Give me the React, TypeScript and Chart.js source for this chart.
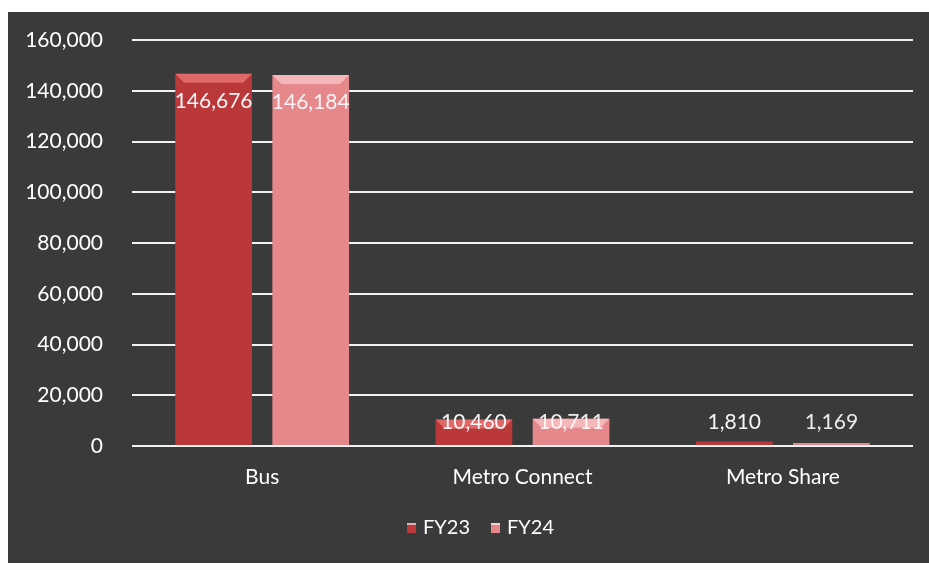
import React, { useEffect, useRef } from "react";
import { Chart, registerables } from "chart.js";

Chart.register(...registerables);

const categories = ["Bus", "Metro Connect", "Metro Share"];
const seriesNames = ["FY23", "FY24"];
const fy23 = [146676, 10460, 1810];
const fy24 = [146184, 10711, 1169];
const yMin = 0;
const yMax = 160000;
const yStep = 20000;

const FONT = "Lato, 'Open Sans', sans-serif";
const fmt = (v: number) => v.toLocaleString("en-US");
const seriesColors = ["#c0393b", "#e8878b"];
const bevelColors = ["rgba(235,120,120,0.75)", "rgba(250,195,198,0.8)"];

function barGradient(ctx: any, dark: string, mid: string, light: string) {
  const chart = ctx.chart;
  const el = ctx.element;
  if (!chart.chartArea || !el || el.width === undefined) return mid;
  const x0 = el.x - el.width / 2;
  const x1 = el.x + el.width / 2;
  const g = chart.ctx.createLinearGradient(x0, 0, x1, 0);
  g.addColorStop(0, dark);
  g.addColorStop(0.12, mid);
  g.addColorStop(0.5, light);
  g.addColorStop(0.88, mid);
  g.addColorStop(1, dark);
  return g;
}

// legend drawn on the chart canvas, centred a little right of the canvas middle
const legendPlugin = {
  id: "customLegend",
  afterDraw(chart: any) {
    const ctx = chart.ctx;
    ctx.save();
    ctx.font = `20px ${FONT}`;
    ctx.textBaseline = "middle";
    ctx.textAlign = "left";
    const box = 9;
    const gap = 7;
    const spacing = 21;
    const names = chart.data.datasets.map((d: any) => d.label);
    const widths = names.map((n: string) => ctx.measureText(n).width);
    const total =
      widths.reduce((a: number, w: number) => a + box + gap + w, 0) + spacing * (names.length - 1);
    const cx = chart.width / 2 + 12;
    const cy = 516;
    let x = cx - total / 2;
    names.forEach((n: string, i: number) => {
      ctx.fillStyle = seriesColors[i];
      ctx.fillRect(x, cy - 5, box, 10);
      ctx.fillStyle = "rgba(255,255,255,0.6)";
      ctx.fillRect(x, cy - 5, box, 2);
      x += box + gap;
      ctx.fillStyle = "#ffffff";
      ctx.fillText(n, x, cy);
      x += widths[i] + spacing;
    });
    ctx.restore();
  },
};

const labelPlugin = {
  id: "valueLabels",
  afterDatasetsDraw(chart: any) {
    const ctx = chart.ctx;
    ctx.save();
    chart.data.datasets.forEach((ds: any, di: number) => {
      const meta = chart.getDatasetMeta(di);
      meta.data.forEach((el: any) => {
        const h = el.base - el.y;
        if (h < 12) return;
        const b = 9;
        const x0 = el.x - el.width / 2;
        const x1 = el.x + el.width / 2;
        ctx.fillStyle = bevelColors[di];
        ctx.beginPath();
        ctx.moveTo(x0, el.y);
        ctx.lineTo(x1, el.y);
        ctx.lineTo(x1 - b, el.y + b);
        ctx.lineTo(x0 + b, el.y + b);
        ctx.closePath();
        ctx.fill();
      });
    });
    ctx.font = `21px ${FONT}`;
    ctx.textAlign = "center";
    ctx.textBaseline = "middle";
    chart.data.datasets.forEach((ds: any, di: number) => {
      const meta = chart.getDatasetMeta(di);
      meta.data.forEach((el: any, i: number) => {
        const y = Math.min(el.y + 27, el.base - 23);
        ctx.fillStyle = di === 0 ? "rgba(255,255,255,0.95)" : "rgba(255,255,255,0.9)";
        ctx.fillText(fmt(ds.data[i]), el.x, y);
      });
    });
    ctx.restore();
  },
};

export default function App() {
  const ref = useRef<HTMLCanvasElement | null>(null);

  useEffect(() => {
    if (!ref.current) return;
    const chart = new Chart(ref.current, {
      type: "bar",
      data: {
        labels: categories,
        datasets: [
          {
            label: seriesNames[0],
            data: fy23,
            backgroundColor: (c: any) => barGradient(c, "#9e2a2c", "#bb383a", "#c74446"),
            borderWidth: 0,
            barPercentage: 0.79,
            categoryPercentage: 0.746,
          },
          {
            label: seriesNames[1],
            data: fy24,
            backgroundColor: (c: any) => barGradient(c, "#c9676b", "#e5878b", "#ee9a9d"),
            borderWidth: 0,
            barPercentage: 0.79,
            categoryPercentage: 0.746,
          },
        ],
      },
      options: {
        animation: false,
        responsive: false,
        maintainAspectRatio: false,
        layout: { padding: { top: 28, right: 16, bottom: 56, left: 0 } },
        plugins: {
          tooltip: { enabled: false },
          legend: { display: false },
        },
        scales: {
          x: {
            grid: { display: false, drawTicks: false },
            border: { display: false },
            afterFit: (s: any) => {
              s.height = 61;
            },
            ticks: {
              color: "#ffffff",
              font: { family: FONT, size: 21 },
              padding: 19,
            },
          },
          y: {
            min: yMin,
            max: yMax,
            grid: { color: "#f2f2f2", lineWidth: 2, drawTicks: false },
            border: { display: false },
            afterFit: (s: any) => {
              s.width = 124;
              s.paddingTop = 0;
              s.paddingBottom = 0;
            },
            ticks: {
              stepSize: yStep,
              color: "#ffffff",
              font: { family: FONT, size: 21 },
              padding: 29,
              callback: (v: any) => fmt(Number(v)),
            },
          },
        },
      },
      plugins: [labelPlugin, legendPlugin],
    });
    return () => chart.destroy();
  }, []);

  return (
    <div
      style={{
        position: "absolute",
        left: 8,
        top: 12,
        width: 921,
        height: 551,
        background: "#3a3a3a",
      }}
    >
      <canvas ref={ref} width={921} height={551} style={{ display: "block" }} />
    </div>
  );
}
